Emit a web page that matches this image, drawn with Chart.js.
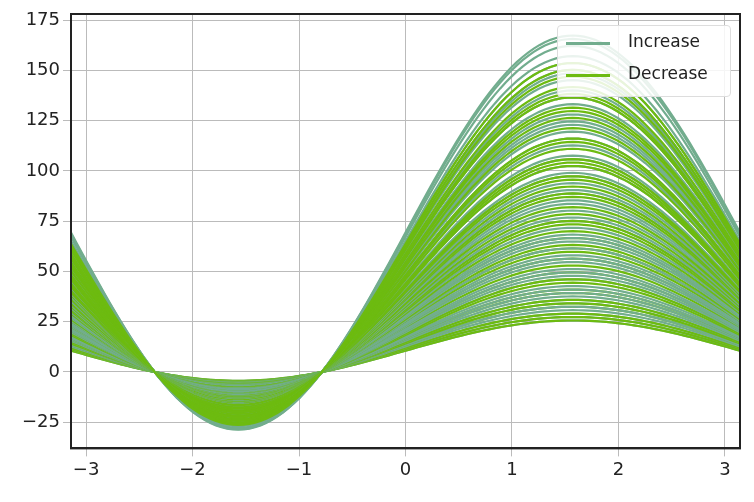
<!DOCTYPE html>
<html><head><meta charset="utf-8">
<script src="https://cdn.jsdelivr.net/npm/chart.js@4/dist/chart.umd.min.js"></script>
<style>
html,body{margin:0;padding:0;background:#fff;}
#wrap{position:relative;width:754px;height:502px;}
#leg{position:absolute;left:557px;top:25px;width:172px;height:70px;background:rgba(255,255,255,0.85);border:1px solid #ddd;border-radius:4px;font-family:"DejaVu Sans";font-size:17px;color:#222;}
#leg div{position:absolute;left:70px;}
#leg span{position:absolute;left:8px;width:44px;height:3px;}
</style></head><body>
<div id="wrap"><canvas id="c" width="754" height="502"></canvas>
<div id="leg"><span style="top:16px;background:#72ad8e"></span><div style="top:5px">Increase</div>
<span style="top:48px;background:#6dbb10"></span><div style="top:37px">Decrease</div></div></div>
<script>
const classes=["Increase","Decrease"];
const colors=["#72ad8e","#6dbb10"];
const increaseB=[15,16,17,18,19,20,21,22,23,24,25,27,28,29,30,32,33,34,36,38,39,40,42,44,45,47,49,50,52,53,55,57,58,60,62,63,66,68,70,72,73,75,78,80,82,85,87,88,90,92,95,97,98];
const decreaseB=[15,16,17,19,20,21,23,24,26,27,29,31,33,35,36,37,39,41,43,44,46,48,51,52,54,56,57,60,61,62,65,67,68,71,74,76,77,80,81,83,86,88,90];
const xTicks=[-3,-2,-1,0,1,2,3];
const ts=[];for(let i=0;i<=120;i++)ts.push(-Math.PI+2*Math.PI*i/120);
function curve(b){return ts.map(t=>({x:t,y:b/Math.SQRT2+b*Math.sin(t)}));}
const datasets=[];
[increaseB,decreaseB].forEach((arr,k)=>arr.forEach((b,i)=>datasets.push({data:curve(b),order:-(i/arr.length*100+k*0.5),borderColor:colors[k],borderWidth:2.2,pointRadius:0,showLine:true,fill:false,tension:0})));
const box={id:'box',afterDraw(c){const a=c.chartArea,x=c.ctx;x.save();x.strokeStyle='#222';x.lineWidth=2;x.strokeRect(a.left,a.top,a.right-a.left,a.bottom-a.top);x.restore();}};
new Chart(document.getElementById('c'),{type:'scatter',data:{datasets},plugins:[box],
options:{responsive:false,animation:false,layout:{padding:{right:14,top:14,bottom:18,left:0}},
plugins:{legend:{display:false},tooltip:{enabled:false}},
scales:{x:{type:'linear',min:-Math.PI,max:Math.PI,afterBuildTicks:a=>{a.ticks=xTicks.map(v=>({value:v}));},
ticks:{font:{family:'DejaVu Sans',size:18},color:'#222',callback:v=>String(v).replace('-','\u2212')},grid:{color:'#bbb'},border:{color:'#222',width:2}},
y:{min:-38,max:178,afterFit:s=>{s.width=71;},afterBuildTicks:a=>{a.ticks=[-25,0,25,50,75,100,125,150,175].map(v=>({value:v}));},
ticks:{font:{family:'DejaVu Sans',size:18},color:'#222',callback:v=>String(v).replace('-','\u2212')},grid:{color:'#bbb'},border:{color:'#222',width:2}}}}});
</script></body></html>
